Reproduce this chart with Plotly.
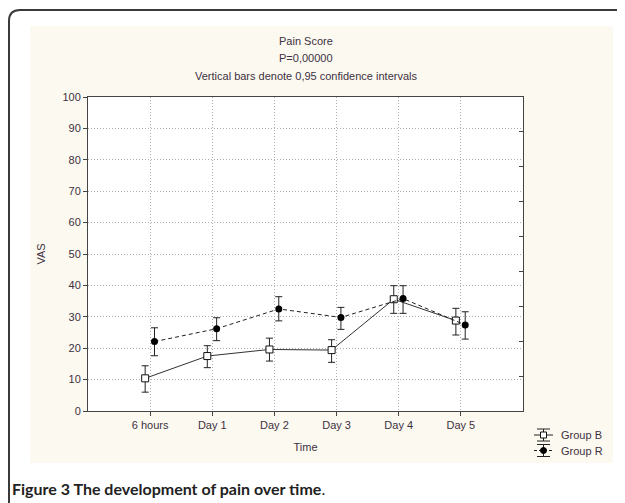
import plotly.graph_objects as go

# ---- data ----
categories = ["6 hours", "Day 1", "Day 2", "Day 3", "Day 4", "Day 5"]
b_mean = [10.4, 17.5, 19.6, 19.4, 35.6, 28.8]
b_upper = [14.4, 20.8, 23.2, 22.7, 39.9, 32.7]
b_lower = [6.0, 13.8, 15.9, 15.5, 31.1, 24.2]
r_mean = [22.1, 26.2, 32.5, 29.8, 35.8, 27.4]
r_upper = [26.5, 29.7, 36.4, 33.0, 39.9, 31.6]
r_lower = [17.6, 22.4, 28.7, 26.0, 31.1, 22.9]
y_ticks = list(range(0, 110, 10))

# ---- layout constants (page pixels; page body has an 8px margin) ----
OFF = 8
W, H = 625, 503
L, R, T, B = 88, 102, 97, 92
PW, PH = W - L - R, H - T - B
TXT = "#3d3142"
FONT = "Liberation Sans, Arial, sans-serif"


def px(x):
    return (x - L) / PW


def py(y):
    return (H - B - y) / PH


idx = list(range(len(categories)))
xb = [i - 0.08 for i in idx]
xr = [i + 0.07 for i in idx]

fig = go.Figure()
fig.add_trace(go.Scatter(
    x=xb, y=b_mean, mode="lines+markers", name="Group B",
    line=dict(color="#333333", width=1),
    marker=dict(symbol="square", size=7, color="white", line=dict(color="#111111", width=1)),
    error_y=dict(type="data", symmetric=False,
                 array=[u - m for u, m in zip(b_upper, b_mean)],
                 arrayminus=[m - l for m, l in zip(b_mean, b_lower)],
                 color="#222222", thickness=1, width=3.5),
    showlegend=False,
))
fig.add_trace(go.Scatter(
    x=xr, y=r_mean, mode="lines+markers", name="Group R",
    line=dict(color="#222222", width=1, dash="4px,3px"),
    marker=dict(symbol="circle", size=7, color="#000000"),
    error_y=dict(type="data", symmetric=False,
                 array=[u - m for u, m in zip(r_upper, r_mean)],
                 arrayminus=[m - l for m, l in zip(r_mean, r_lower)],
                 color="#222222", thickness=1, width=3.5),
    showlegend=False,
))
# invisible trace to materialise the right-hand tick axis
fig.add_trace(go.Scatter(x=[0], y=[0], yaxis="y2", mode="markers",
                         marker=dict(opacity=0), showlegend=False, hoverinfo="skip"))

shapes = []
# outer rounded frame
shapes.append(dict(type="path", xref="paper", yref="paper",
                   path=f"M {px(9)},{py(520)} L {px(9)},{py(21)} Q {px(9)},{py(10)} {px(20)},{py(10)} L {px(640)},{py(10)}",
                   line=dict(color="#3a3a3a", width=2), layer="below"))
# cream panel
shapes.append(dict(type="rect", xref="paper", yref="paper",
                   x0=px(30), x1=px(613), y0=py(463), y1=py(26),
                   fillcolor="#fcf9f0", line=dict(width=0), layer="below"))
# white plotting area over the panel
shapes.append(dict(type="rect", xref="paper", yref="paper",
                   x0=0, x1=1, y0=0, y1=1,
                   fillcolor="white", line=dict(width=0), layer="below"))

# manual legend with error-bar style icons
annotations = []
leg = [("Group B", 435, "solid", "square"), ("Group R", 450.5, "dash", "circle")]
for name, yc, dash, sym in leg:
    shapes.append(dict(type="line", xref="paper", yref="paper",
                       x0=px(534), x1=px(553), y0=py(yc), y1=py(yc),
                       line=dict(color="#222222", width=1, dash="solid" if dash == "solid" else "3px,2px")))
    for dy in (-6, 6):
        shapes.append(dict(type="line", xref="paper", yref="paper",
                           x0=px(537), x1=px(550), y0=py(yc + dy), y1=py(yc + dy),
                           line=dict(color="#222222", width=1)))
    shapes.append(dict(type="line", xref="paper", yref="paper",
                       x0=px(543.5), x1=px(543.5), y0=py(yc - 6), y1=py(yc + 6),
                       line=dict(color="#222222", width=1)))
    if sym == "square":
        shapes.append(dict(type="rect", xref="paper", yref="paper",
                           x0=px(540.5), x1=px(546.5), y0=py(yc + 3), y1=py(yc - 3),
                           fillcolor="white", line=dict(color="#111111", width=1)))
    else:
        shapes.append(dict(type="circle", xref="paper", yref="paper",
                           x0=px(540.5), x1=px(546.5), y0=py(yc + 3), y1=py(yc - 3),
                           fillcolor="black", line=dict(color="black", width=1)))
    annotations.append(dict(x=px(559), y=py(yc), xref="paper", yref="paper",
                            text=name, showarrow=False, xanchor="left", yanchor="middle",
                            font=dict(family=FONT, size=11, color=TXT)))

# titles
for text, yc in [("Pain Score", 41), ("P=0,00000", 58.5), ("Vertical bars denote 0,95 confidence intervals", 76)]:
    annotations.append(dict(x=px(305.5), y=py(yc), xref="paper", yref="paper",
                            text=text, showarrow=False, xanchor="center", yanchor="middle",
                            font=dict(family=FONT, size=11, color=TXT)))
# caption
annotations.append(dict(x=px(10), y=py(488), xref="paper", yref="paper",
                        text="<b>Figure 3 The development of pain over time</b>.",
                        showarrow=False, xanchor="left", yanchor="middle",
                        font=dict(family="Lato, Open Sans, sans-serif", size=16, color="#222222")))

fig.update_layout(
    width=W - OFF, height=H - OFF,
    margin=dict(l=L - OFF, r=R, t=T - OFF, b=B, pad=0),
    paper_bgcolor="white", plot_bgcolor="white",
    font=dict(family=FONT, size=11, color=TXT),
    xaxis=dict(range=[-1, 6], tickmode="array", tickvals=idx, ticktext=categories,
               showgrid=True, gridcolor="#b0b0b0", griddash="1px,2px", gridwidth=1,
               showline=True, linecolor="#444444", linewidth=1, mirror=True,
               ticks="outside", ticklen=4, tickcolor="#444444",
               zeroline=False,
               title=dict(text="Time", standoff=13, font=dict(size=11, color=TXT))),
    yaxis=dict(range=[0, 100], tickmode="array", tickvals=y_ticks,
               showgrid=True, gridcolor="#b0b0b0", griddash="1px,2px", gridwidth=1,
               showline=True, linecolor="#444444", linewidth=1, mirror=True,
               ticks="outside", ticklen=4, tickcolor="#444444",
               zeroline=False,
               title=dict(text="VAS", standoff=14, font=dict(size=11, color=TXT))),
    yaxis2=dict(range=[0, 9], overlaying="y", side="right", dtick=1,
                showticklabels=False, showgrid=False, zeroline=False,
                ticks="inside", ticklen=4, tickcolor="#444444", showline=False),
    shapes=shapes, annotations=annotations, showlegend=False,
)
fig.write_html("out.html")
